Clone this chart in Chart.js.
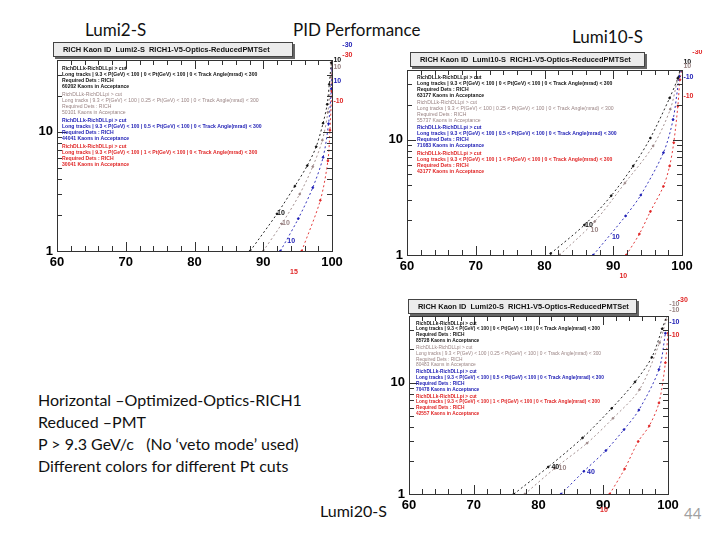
<!DOCTYPE html>
<html>
<head>
<meta charset="utf-8">
<script src="https://cdn.jsdelivr.net/npm/chart.js@4.4.1/dist/chart.umd.min.js"></script>
<style>
  body { margin: 0; width: 720px; height: 540px; background: #fff; position: relative; overflow: hidden; font-family: Lato, "Open Sans", sans-serif; }
  .t { position: absolute; white-space: nowrap; color: #111; line-height: 1; }
  .box { position: absolute; z-index: 2; background: #ececec; border: 1px solid #444; box-shadow: 2px 2px 0 #666;
         font: bold 8px "Liberation Sans", Arial, sans-serif; line-height: 13px; padding-left: 9px; color: #111; white-space: nowrap; box-sizing: border-box; overflow: hidden; }
  .box span { display: inline-block; transform: scaleX(0.93); transform-origin: left center; }
  canvas { position: absolute; }
</style>
</head>
<body>
<div class="t" style="left:85px;top:21px;font-size:17px">Lumi2-S</div>
<div class="t" style="left:293px;top:21px;font-size:17px">PID Performance</div>
<div class="t" style="left:572px;top:28px;font-size:17px">Lumi10-S</div>
<div class="t" style="left:38px;top:389px;font-size:16px;line-height:22px">Horizontal &ndash;Optimized-Optics-RICH1<br>Reduced &ndash;PMT<br>P &gt; 9.3 GeV/c &nbsp;&nbsp;(No &lsquo;veto mode&rsquo; used)<br>Different colors for different Pt cuts</div>
<div class="t" style="left:320px;top:503px;font-size:16px">Lumi20-S</div>
<div class="t" style="left:684px;top:506px;font-size:15px;color:#a0a0a0">44</div>

<div class="box" style="left:53px;top:42px;width:240px;height:15px"><span>RICH Kaon ID &nbsp;Lumi2-S &nbsp;RICH1-V5-Optics-ReducedPMTSet</span></div>
<div class="box" style="left:410px;top:52px;width:235px;height:15px"><span>RICH Kaon ID &nbsp;Lumi10-S &nbsp;RICH1-V5-Optics-ReducedPMTSet</span></div>
<div class="box" style="left:408px;top:299px;width:229px;height:15px"><span>RICH Kaon ID &nbsp;Lumi20-S &nbsp;RICH1-V5-Optics-ReducedPMTSet</span></div>

<canvas id="lumi2" width="325" height="237" style="left:35px;top:40px"></canvas>
<canvas id="lumi10" width="325" height="231" style="left:385px;top:50px"></canvas>
<canvas id="lumi20" width="309" height="224" style="left:387px;top:296px"></canvas>

<script>
// axes: kaon ID efficiency (%) vs pion mis-ID (%)
const effTicks = [60, 70, 80, 90, 100];
const misidLabelled = [1, 10];
const ptCuts = ['0', '0.25', '0.5', '1'];

// Lumi2-S, one curve per Pt cut
const lumi2Pt0X   = [88.1, 92.0, 94.6, 96.4, 97.7, 98.7, 99.3, 99.6, 99.9];
const lumi2Pt0Y   = [1.0, 2.05, 3.5, 5.2, 7.5, 11.8, 17, 25, 38];
const lumi2Pt025X = [90.0, 92.7, 95.3, 97.2, 98.6, 99.4, 99.9, 100];
const lumi2Pt025Y = [1.0, 1.69, 3.0, 5.1, 8.5, 14.6, 28.8, 36];
const lumi2Pt05X  = [92.5, 95.1, 97.2, 98.7, 99.5, 99.9, 100];
const lumi2Pt05Y  = [1.0, 1.87, 3.4, 6.1, 11.7, 23, 34];
const lumi2Pt1X   = [95.6, 98.3, 99.4, 99.7, 99.95, 100];
const lumi2Pt1Y   = [1.0, 2.66, 5.7, 10.3, 22, 38];
const lumi2Kaons  = ['60202', '50101', '44041', '30041'];
const lumi2Cuts   = [[0, 92.0, 2.07, '10'], [1, 92.4, 1.7, '-10'], [2, 93.5, 1.21, '10'], [3, 93.9, 0.67, '15'],
                     [0, 100.2, 40, '10'], [1, 100.2, 35, '10'], [2, 100.2, 26.6, '10'], [3, 100.2, 18, '-10'],
                     [2, 101.5, 53, '-30'], [3, 101.5, 44, '-30']];

// Lumi10-S
const lumi10Pt0X   = [80.9, 85.8, 89.7, 92.9, 95.4, 98.2, 99.4, 99.7];
const lumi10Pt0Y   = [1.03, 1.82, 3.26, 5.9, 10.3, 22.9, 34, 40];
const lumi10Pt025X = [82.2, 87.3, 91.7, 95.8, 98.3, 99.4, 99.8];
const lumi10Pt025Y = [1.0, 1.95, 4.2, 8.8, 18.3, 34, 40];
const lumi10Pt05X  = [87.1, 91.8, 94.0, 97.3, 98.7, 99.6, 99.9];
const lumi10Pt05Y  = [1.0, 2.18, 3.3, 7.7, 14.9, 35, 40];
const lumi10Pt1X   = [91.9, 93.8, 95.4, 97.3, 98.2, 98.8, 99.4, 99.7, 100];
const lumi10Pt1Y   = [1.0, 1.52, 2.38, 3.93, 5.9, 9.4, 19.5, 33, 40];
const lumi10Kaons  = ['63177', '55737', '71083', '43177'];
const lumi10Cuts   = [[0, 85.9, 1.82, '10'], [1, 86.7, 1.65, '10'], [2, 89.8, 1.43, '10'], [3, 90.9, 0.66, '10'],
                      [0, 100.2, 47, '10'], [1, 100.2, 43, '10'], [2, 100.2, 35, '-10'], [3, 100.2, 24, '-10'],
                      [3, 101.5, 57, '-30']];

// Lumi20-S
const lumi20Pt0X   = [76.2, 81.5, 86.8, 91.3, 94.9, 97.5, 99.1, 99.8];
const lumi20Pt0Y   = [1.0, 1.75, 3.2, 5.9, 10.2, 17, 30.7, 40];
const lumi20Pt025X = [77.9, 82.5, 87.5, 91.5, 95.6, 98.7, 99.7];
const lumi20Pt025Y = [1.0, 1.7, 2.87, 4.8, 8.7, 23, 37];
const lumi20Pt05X  = [83.5, 87.0, 90.4, 93.2, 95.5, 98.6, 99.6];
const lumi20Pt05Y  = [1.0, 1.6, 2.46, 3.8, 5.7, 13.2, 28];
const lumi20Pt1X   = [91.0, 93.3, 95.4, 97.1, 98.6, 99.6, 100];
const lumi20Pt1Y   = [1.0, 1.68, 2.97, 4.1, 6.6, 15.2, 28];
const lumi20Kaons  = ['85728', '80483', '70478', '42557'];
const lumi20Cuts   = [[0, 82.0, 1.76, '40'], [1, 83.1, 1.71, '10'], [2, 87.5, 1.59, '40'], [3, 89.5, 0.71, '10'],
                      [1, 100.2, 51, '-10'], [1, 100.2, 45, '-10'], [2, 100.2, 35, '-10'], [3, 100.2, 26.7, '-10'],
                      [3, 101.5, 56, '-30']];

const colors = ['#111111', '#9a8484', '#1c1cb4', '#e02626'];

const toPoints = (xs, ys) => xs.map((x, i) => ({x: x, y: ys[i]}));

function legendLines(pt, kaons) {
  return [
    'RichDLLk-RichDLLpi > cut',
    'Long tracks | 9.3 < P(GeV) < 100 | ' + pt + ' < Pt(GeV) < 100 | 0 < Track Angle(mrad) < 300',
    'Required Dets : RICH',
    kaons + ' Kaons in Acceptance'
  ];
}

// ROOT-like frame, inner ticks, text block and cut labels
const rootDecor = {
  id: 'rootDecor',
  afterDraw(chart, args, opts) {
    const {ctx, chartArea: a, scales: {x, y}} = chart;
    ctx.save();
    ctx.strokeStyle = '#333';
    ctx.lineWidth = 1;
    ctx.strokeRect(Math.round(a.left) + .5, Math.round(a.top) + .5, Math.round(a.right - a.left), Math.round(a.bottom - a.top));
    ctx.beginPath();
    for (let v = 60; v <= 100; v += 2) {
      const px = Math.round(x.getPixelForValue(v)) + .5;
      const len = v % 10 === 0 ? 9 : 5;
      ctx.moveTo(px, a.bottom); ctx.lineTo(px, a.bottom - len);
      ctx.moveTo(px, a.top); ctx.lineTo(px, a.top + len);
    }
    [1, 2, 3, 4, 5, 6, 7, 8, 9, 10, 20, 30, 40].forEach(v => {
      const py = Math.round(y.getPixelForValue(v)) + .5;
      const len = (v === 1 || v === 10) ? 9 : 5;
      ctx.moveTo(a.left, py); ctx.lineTo(a.left + len, py);
      ctx.moveTo(a.right, py); ctx.lineTo(a.right - len, py);
    });
    ctx.stroke();

    // text blocks, one per Pt cut
    ctx.textBaseline = 'middle';
    opts.kaons.forEach((k, s) => {
      ctx.fillStyle = colors[s];
      legendLines(ptCuts[s], k).forEach((line, i) => {
        ctx.font = (s === 1 ? '' : 'bold ') + '6px "Liberation Sans", Arial, sans-serif';
        const w = ctx.measureText(line).width * opts.squeeze;
        ctx.fillText(line, a.left + opts.dx, a.top + opts.dy + s * opts.block + i * opts.line, w);
      });
    });

    // cut value labels
    ctx.font = 'bold 7px "Liberation Sans", Arial, sans-serif';
    opts.cuts.forEach(([s, vx, vy, t]) => {
      ctx.fillStyle = colors[s];
      ctx.fillText(t, x.getPixelForValue(vx), y.getPixelForValue(vy));
    });
    ctx.restore();
  }
};

function drawPanel(id, series, kaons, cuts, text) {
  new Chart(document.getElementById(id), {
    type: 'scatter',
    data: {
      datasets: series.map((s, i) => ({
        label: 'Pt > ' + ptCuts[i],
        data: toPoints(s[0], s[1]),
        showLine: true,
        borderColor: colors[i],
        backgroundColor: colors[i],
        borderWidth: 0.9,
        borderDash: [2, 2.5],
        pointRadius: 0.9,
        pointHoverRadius: 0.9,
        tension: 0.3
      }))
    },
    options: {
      responsive: false,
      animation: false,
      devicePixelRatio: 1,
      layout: {padding: {top: 20, right: 28, left: 0, bottom: 6}},
      plugins: {
        legend: {display: false},
        tooltip: {enabled: false},
        rootDecor: Object.assign({kaons: kaons, cuts: cuts}, text)
      },
      scales: {
        x: {
          type: 'linear', min: 60, max: 100,
          afterFit: s => { s.height = 20; },
          afterBuildTicks: s => { s.ticks = effTicks.map(v => ({value: v})); },
          grid: {display: false, drawTicks: false},
          border: {display: false},
          ticks: {padding: 4, color: '#000', font: {family: '"Liberation Sans", Arial', size: 13, weight: 'bold'}}
        },
        y: {
          type: 'logarithmic', min: 1, max: 40,
          afterFit: s => { s.width = 22; },
          afterBuildTicks: s => { s.ticks = misidLabelled.map(v => ({value: v})); },
          grid: {display: false, drawTicks: false},
          border: {display: false},
          ticks: {padding: 4, color: '#000', font: {family: '"Liberation Sans", Arial', size: 13, weight: 'bold'},
                  callback: v => String(v)}
        }
      }
    },
    plugins: [rootDecor]
  });
}

drawPanel('lumi2',
  [[lumi2Pt0X, lumi2Pt0Y], [lumi2Pt025X, lumi2Pt025Y], [lumi2Pt05X, lumi2Pt05Y], [lumi2Pt1X, lumi2Pt1Y]],
  lumi2Kaons, lumi2Cuts, {dx: 5, dy: 8, block: 26, line: 6, squeeze: 0.85});
drawPanel('lumi10',
  [[lumi10Pt0X, lumi10Pt0Y], [lumi10Pt025X, lumi10Pt025Y], [lumi10Pt05X, lumi10Pt05Y], [lumi10Pt1X, lumi10Pt1Y]],
  lumi10Kaons, lumi10Cuts, {dx: 10, dy: 7, block: 25.3, line: 6, squeeze: 0.85});
drawPanel('lumi20',
  [[lumi20Pt0X, lumi20Pt0Y], [lumi20Pt025X, lumi20Pt025Y], [lumi20Pt05X, lumi20Pt05Y], [lumi20Pt1X, lumi20Pt1Y]],
  lumi20Kaons, lumi20Cuts, {dx: 7, dy: 7, block: 24.3, line: 5.8, squeeze: 0.8});
</script>
</body>
</html>
